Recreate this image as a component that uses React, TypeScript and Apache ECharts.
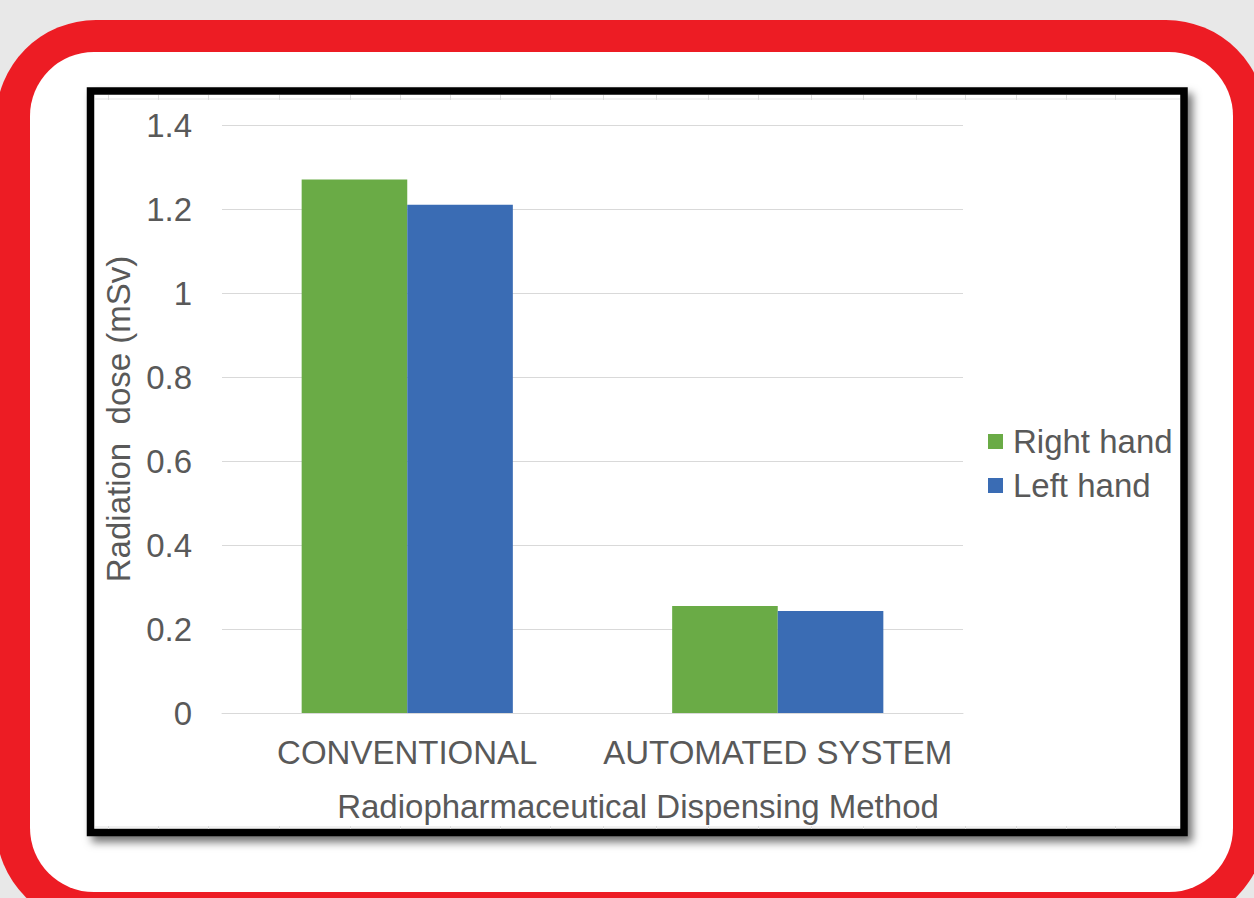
import React, { useEffect, useRef } from "react";
import * as echarts from "echarts";

// Dose values (mSv) per dispensing method
const categories = ["CONVENTIONAL", "AUTOMATED SYSTEM"];
const seriesNames = ["Right hand", "Left hand"];
const rightHand = [1.27, 0.255];
const leftHand = [1.21, 0.243];
const yMax = 1.4;
const yStep = 0.2;

const xTitle = "Radiopharmaceutical Dispensing Method";
const yTitle = "Radiation  dose (mSv)";

const FONT = "'Liberation Sans', Arial, sans-serif";
const FS = 33;
const TEXT = "#595959";
const GREEN = "#6aab46";
const BLUE = "#3a6cb4";

// faint worksheet column marks behind the chart frame
const sheetCols = [108, 158, 208, 279, 350, 400, 450, 500, 550, 603, 656, 708, 758, 811, 863, 916, 965, 1016, 1066, 1115];

function frameGraphics() {
  const els: any[] = [
    {
      type: "rect",
      z: -20,
      silent: true,
      shape: { x: -4, y: 20, width: 1270, height: 906, r: 100 },
      style: { fill: "#ed1c24" },
    },
    {
      type: "rect",
      z: -19,
      silent: true,
      shape: { x: 30, y: 52, width: 1203, height: 840, r: 64 },
      style: { fill: "#ffffff" },
    },
    {
      type: "rect",
      z: -18,
      silent: true,
      shape: { x: 90.5, y: 91, width: 1093.5, height: 741.5 },
      style: {
        fill: "#ffffff",
        stroke: "#000000",
        lineWidth: 7.5,
        shadowColor: "rgba(0,0,0,0.55)",
        shadowBlur: 8,
        shadowOffsetX: 5,
        shadowOffsetY: 6,
      },
    },
    {
      type: "line",
      z: -17,
      silent: true,
      shape: { x1: 95, y1: 99, x2: 1180, y2: 99 },
      style: { stroke: "#e3e3e3", lineWidth: 1 },
    },
    {
      type: "line",
      z: -17,
      silent: true,
      shape: { x1: 95, y1: 827, x2: 1180, y2: 827 },
      style: { stroke: "#e3e3e3", lineWidth: 1 },
    },
  ];
  sheetCols.forEach((x) => {
    els.push({
      type: "line",
      z: -17,
      silent: true,
      shape: { x1: x + 0.5, y1: 95, x2: x + 0.5, y2: 100 },
      style: { stroke: "#dcdcdc", lineWidth: 1 },
    });
    els.push({
      type: "line",
      z: -17,
      silent: true,
      shape: { x1: x + 0.5, y1: 826, x2: x + 0.5, y2: 829 },
      style: { stroke: "#dcdcdc", lineWidth: 1 },
    });
  });
  els.push({
    type: "text",
    z: 5,
    silent: true,
    x: 638,
    y: 806,
    style: {
      text: xTitle,
      fill: TEXT,
      font: `${FS}px ${FONT}`,
      fontSize: FS,
      fontFamily: FONT,
      align: "center",
      verticalAlign: "middle",
    },
  });
  return els;
}

export default function App() {
  const ref = useRef<HTMLDivElement>(null);

  useEffect(() => {
    if (!ref.current) return;
    const chart = echarts.init(ref.current, undefined, { renderer: "svg" });
    chart.setOption({
      animation: false,
      backgroundColor: "#e8e8e8",
      textStyle: { fontFamily: FONT, color: TEXT },
      graphic: { elements: frameGraphics() },
      grid: { left: 222, right: 291, top: 125, bottom: 185, containLabel: false },
      legend: {
        orient: "vertical",
        left: 988,
        top: 425,
        padding: 0,
        itemWidth: 15,
        itemHeight: 15,
        itemGap: 11,
        icon: "rect",
        data: seriesNames,
        textStyle: { fontSize: FS, color: TEXT, fontFamily: FONT, lineHeight: 33, padding: [0, 0, 0, 5] },
      },
      xAxis: {
        type: "category",
        data: categories,
        axisLine: { show: true, lineStyle: { color: "#d9d9d9", width: 1 } },
        axisTick: { show: false },
        axisLabel: { fontSize: FS, color: TEXT, fontFamily: FONT, margin: 23, interval: 0 },
      },
      yAxis: {
        type: "value",
        min: 0,
        max: yMax,
        interval: yStep,
        name: yTitle,
        nameLocation: "middle",
        nameGap: 86,
        nameTextStyle: { fontSize: FS, color: TEXT, fontFamily: FONT },
        axisLine: { show: false },
        axisTick: { show: false },
        splitLine: { lineStyle: { color: "#d9d9d9", width: 1 } },
        axisLabel: {
          fontSize: FS,
          color: TEXT,
          fontFamily: FONT,
          margin: 30,
          formatter: (v: number) => String(Math.round(v * 10) / 10),
        },
      },
      series: [
        {
          name: seriesNames[0],
          type: "bar",
          data: rightHand,
          barGap: "0%",
          barCategoryGap: "43%",
          itemStyle: { color: GREEN },
        },
        {
          name: seriesNames[1],
          type: "bar",
          data: leftHand,
          barGap: "0%",
          barCategoryGap: "43%",
          itemStyle: { color: BLUE },
        },
      ],
    });
    return () => chart.dispose();
  }, []);

  return (
    <div
      ref={ref}
      style={{ position: "fixed", left: 0, top: 0, width: 1254, height: 898 }}
    />
  );
}
